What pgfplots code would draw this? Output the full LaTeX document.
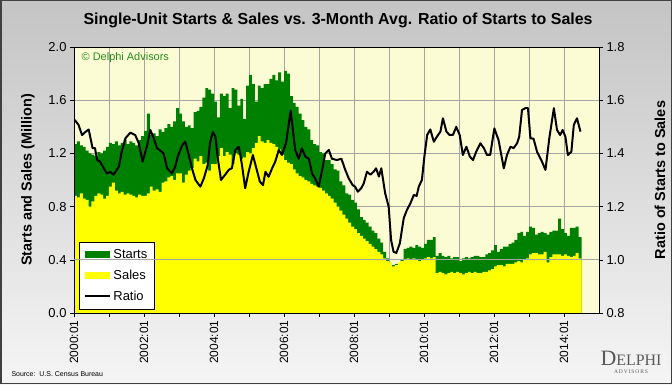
\documentclass[border=0pt]{standalone}
\usepackage{pgfplots}
\pgfplotsset{compat=1.18}
\usepackage{pgfplotstable}
\usepackage{fontspec}
\setmainfont{Liberation Sans}
\newfontfamily\seriffont{Liberation Serif}
\definecolor{stgreen}{RGB}{0,128,0}
\definecolor{slyellow}{RGB}{255,255,0}
\definecolor{plotbg}{RGB}{252,252,212}
\definecolor{gridc}{RGB}{165,165,165}
\definecolor{cpy}{RGB}{40,140,30}
\definecolor{bgtop}{RGB}{196,196,196}
\definecolor{bgbot}{RGB}{245,245,245}

% monthly single-unit starts (s) and sales (y), 2000:01 - 2014:06, last row repeats the final month to close the step
\pgfplotstableread[row sep=\\]{
s y \\
1.27 0.88 \\ 1.29 0.87 \\ 1.26 0.90 \\ 1.25 0.86 \\ 1.22 0.85 \\ 1.20 0.80 \\ 1.19 0.84 \\ 1.18 0.88 \\ 1.21 0.90 \\ 1.20 0.89 \\ 1.22 0.86 \\ 1.25 0.88 \\
1.28 0.95 \\ 1.27 0.98 \\ 1.29 0.92 \\ 1.26 0.90 \\ 1.28 0.91 \\ 1.30 0.89 \\ 1.27 0.90 \\ 1.29 0.89 \\ 1.28 0.88 \\ 1.26 0.87 \\ 1.30 0.89 \\ 1.33 0.88 \\
1.37 0.88 \\ 1.50 0.90 \\ 1.34 0.95 \\ 1.35 0.92 \\ 1.33 0.93 \\ 1.38 0.91 \\ 1.36 0.98 \\ 1.39 0.99 \\ 1.42 1.02 \\ 1.40 1.03 \\ 1.44 1.00 \\ 1.54 1.05 \\
1.50 1.05 \\ 1.44 0.98 \\ 1.40 1.04 \\ 1.41 1.07 \\ 1.39 1.09 \\ 1.51 1.16 \\ 1.52 1.14 \\ 1.55 1.18 \\ 1.62 1.12 \\ 1.69 1.13 \\ 1.68 1.07 \\ 1.65 1.12 \\
1.59 1.12 \\ 1.47 1.18 \\ 1.65 1.24 \\ 1.63 1.18 \\ 1.65 1.21 \\ 1.54 1.19 \\ 1.69 1.12 \\ 1.68 1.20 \\ 1.56 1.19 \\ 1.61 1.16 \\ 1.46 1.17 \\ 1.71 1.21 \\
1.79 1.20 \\ 1.72 1.24 \\ 1.59 1.28 \\ 1.71 1.33 \\ 1.69 1.29 \\ 1.72 1.28 \\ 1.72 1.30 \\ 1.76 1.28 \\ 1.79 1.27 \\ 1.75 1.25 \\ 1.81 1.23 \\ 1.74 1.19 \\
1.82 1.15 \\ 1.80 1.13 \\ 1.63 1.12 \\ 1.58 1.08 \\ 1.55 1.05 \\ 1.50 1.03 \\ 1.45 1.02 \\ 1.40 1.00 \\ 1.38 0.99 \\ 1.30 0.97 \\ 1.27 0.96 \\ 1.26 0.95 \\
1.21 0.94 \\ 1.20 0.92 \\ 1.15 0.90 \\ 1.15 0.88 \\ 1.12 0.86 \\ 1.08 0.83 \\ 1.07 0.80 \\ 0.99 0.77 \\ 0.96 0.74 \\ 0.90 0.71 \\ 0.89 0.68 \\ 0.85 0.65 \\
0.83 0.63 \\ 0.78 0.60 \\ 0.72 0.58 \\ 0.70 0.56 \\ 0.68 0.54 \\ 0.65 0.52 \\ 0.62 0.50 \\ 0.60 0.48 \\ 0.56 0.46 \\ 0.53 0.44 \\ 0.46 0.41 \\ 0.41 0.39 \\
0.36 0.38 \\ 0.36 0.35 \\ 0.37 0.36 \\ 0.36 0.38 \\ 0.40 0.39 \\ 0.48 0.40 \\ 0.49 0.41 \\ 0.50 0.40 \\ 0.49 0.41 \\ 0.51 0.40 \\ 0.50 0.39 \\ 0.49 0.40 \\
0.52 0.41 \\ 0.55 0.42 \\ 0.55 0.41 \\ 0.57 0.42 \\ 0.43 0.30 \\ 0.45 0.31 \\ 0.43 0.30 \\ 0.42 0.29 \\ 0.43 0.30 \\ 0.41 0.31 \\ 0.42 0.30 \\ 0.42 0.31 \\
0.39 0.30 \\ 0.41 0.29 \\ 0.42 0.30 \\ 0.41 0.31 \\ 0.42 0.30 \\ 0.43 0.31 \\ 0.43 0.30 \\ 0.42 0.30 \\ 0.42 0.31 \\ 0.44 0.31 \\ 0.45 0.32 \\ 0.47 0.33 \\
0.51 0.35 \\ 0.46 0.36 \\ 0.48 0.36 \\ 0.50 0.35 \\ 0.50 0.37 \\ 0.52 0.37 \\ 0.53 0.37 \\ 0.55 0.38 \\ 0.60 0.39 \\ 0.61 0.38 \\ 0.58 0.40 \\ 0.61 0.41 \\
0.65 0.44 \\ 0.64 0.45 \\ 0.59 0.45 \\ 0.60 0.44 \\ 0.61 0.44 \\ 0.60 0.46 \\ 0.59 0.38 \\ 0.61 0.42 \\ 0.62 0.44 \\ 0.62 0.44 \\ 0.71 0.44 \\ 0.63 0.43 \\
0.60 0.44 \\ 0.58 0.43 \\ 0.64 0.42 \\ 0.64 0.43 \\ 0.65 0.45 \\ 0.57 0.41 \\
0.57 0.41 \\
}\housing

\begin{document}
\begin{tikzpicture}[x=1bp,y=1bp]
\shade[top color=bgtop, bottom color=bgbot] (0,0) rectangle (672,384);
\draw[line width=1.5bp, color=black!75] (0.75,0.75) rectangle (671.25,383.25);
\useasboundingbox (0,0) rectangle (672,384);

\begin{axis}[
  at={(74bp,71bp)}, anchor=south west,
  scale only axis, width=525bp, height=266bp,
  xmin=2000, xmax=2015, ymin=0, ymax=2,
  axis background/.style={fill=plotbg},
  xtick={2000,2001,...,2014},
  xticklabels={2000:01,,2002:01,,2004:01,,2006:01,,2008:01,,2010:01,,2012:01,,2014:01},
  xticklabel style={rotate=90, anchor=east, font=\fontsize{12}{12}\selectfont},
  ytick={0,0.4,0.8,1.2,1.6,2.0},
  yticklabel style={/pgf/number format/.cd, fixed, fixed zerofill, precision=1, /tikz/.cd, font=\fontsize{13}{13}\selectfont},
  /pgf/number format/assume math mode=true,
  xtick pos=bottom, ytick pos=left, tick align=outside,
  major tick length=4bp,
  tick style={black, line width=0.6bp},
  xmajorgrids, ymajorgrids,
  grid style={gridc, line width=0.7bp},
  axis line style={black},
  ylabel={Starts and Sales (Million)},
  ylabel style={at={(axis description cs:-0.0876,0.5)}, anchor=center, font=\bfseries\fontsize{14.5}{15}\selectfont},
  title={Single-Unit Starts \& Sales vs. 3-Month Avg. Ratio of Starts to Sales},
  title style={at={(axis description cs:0.503,1.079)}, anchor=center, yshift=0pt, font=\bfseries\fontsize{16}{17}\selectfont},
  legend style={at={(0.01,0.015)}, anchor=south west, draw=black, fill=white,
    font=\fontsize{13}{15}\selectfont, row sep=6bp, inner xsep=5bp, inner ysep=5bp},
  legend cell align=left,
]
\addplot[draw=none, fill=stgreen, const plot mark left,
  legend image code/.code={\fill[stgreen] (0bp,-3.5bp) rectangle (25bp,3.5bp);}]
  table[x expr=2000+\coordindex/12, y=s]{\housing} \closedcycle;
\addlegendentry{Starts}
\addplot[draw=none, fill=slyellow, const plot mark left,
  legend image code/.code={\fill[slyellow] (0bp,-3.5bp) rectangle (25bp,3.5bp);}]
  table[x expr=2000+\coordindex/12, y=y]{\housing} \closedcycle;
\addlegendentry{Sales}
\addlegendimage{black, line width=2bp, legend image code/.code={\draw[black, line width=2bp] (0bp,0bp) -- (25bp,0bp);}}
\addlegendentry{Ratio}
\node[anchor=west, text=cpy, font=\fontsize{11}{12}\selectfont] at (axis description cs:0.008,0.96) {© Delphi Advisors};
\end{axis}

\begin{axis}[
  at={(74bp,71bp)}, anchor=south west,
  scale only axis, width=525bp, height=266bp,
  xmin=2000, xmax=2015, ymin=0.8, ymax=1.8,
  xtick=\empty,
  ytick={0.8,1.0,1.2,1.4,1.6,1.8},
  ytick pos=right, yticklabel pos=right, tick align=outside,
  major tick length=4bp,
  tick style={black, line width=0.6bp},
  yticklabel style={/pgf/number format/.cd, fixed, fixed zerofill, precision=1, /tikz/.cd, font=\fontsize{13}{13}\selectfont},
  /pgf/number format/assume math mode=true,
  axis line style={black},
  ylabel={Ratio of Starts to Sales},
  ylabel style={at={(axis description cs:1.116,0.5)}, anchor=center, rotate=0, font=\bfseries\fontsize{14.5}{15}\selectfont},
]
\addplot[gridc, line width=0.7bp] coordinates {(2000,1.0) (2015,1.0)};
\addplot[black, line width=2bp, line join=round] coordinates {
(2000.02,1.526) (2000.13,1.507) (2000.23,1.469) (2000.32,1.48) (2000.42,1.49)
(2000.53,1.42) (2000.60,1.42) (2000.66,1.375) (2000.74,1.37) (2000.85,1.344)
(2000.94,1.325) (2001.04,1.33) (2001.13,1.32) (2001.28,1.35) (2001.37,1.41)
(2001.47,1.457) (2001.61,1.478) (2001.75,1.469) (2001.85,1.438) (2001.96,1.369)
(2002.09,1.43) (2002.18,1.488) (2002.28,1.457) (2002.37,1.42) (2002.47,1.41)
(2002.56,1.40) (2002.66,1.344) (2002.80,1.325) (2002.89,1.35) (2002.97,1.39)
(2003.09,1.43) (2003.18,1.444) (2003.28,1.394) (2003.37,1.344) (2003.47,1.30)
(2003.61,1.275) (2003.71,1.306) (2003.82,1.356) (2003.89,1.444) (2003.97,1.48)
(2004.04,1.463) (2004.11,1.38) (2004.20,1.30) (2004.32,1.32) (2004.42,1.338)
(2004.51,1.344) (2004.61,1.413) (2004.71,1.425) (2004.80,1.356) (2004.89,1.269)
(2004.99,1.331) (2005.11,1.394) (2005.21,1.344) (2005.31,1.294) (2005.40,1.281)
(2005.47,1.331) (2005.56,1.312) (2005.66,1.344) (2005.75,1.369) (2005.85,1.413)
(2005.94,1.394) (2006.01,1.42) (2006.06,1.44) (2006.19,1.56) (2006.32,1.413)
(2006.42,1.38) (2006.51,1.419) (2006.61,1.388) (2006.71,1.38) (2006.80,1.325)
(2006.89,1.306) (2006.99,1.275) (2007.09,1.338) (2007.18,1.40) (2007.28,1.413)
(2007.37,1.38) (2007.51,1.375) (2007.64,1.38) (2007.75,1.338) (2007.85,1.306)
(2007.96,1.281) (2008.03,1.275) (2008.11,1.256) (2008.21,1.27) (2008.28,1.288)
(2008.37,1.331) (2008.47,1.32) (2008.56,1.331) (2008.63,1.344) (2008.71,1.313)
(2008.78,1.344) (2008.89,1.25) (2008.99,1.20) (2009.06,1.074) (2009.13,1.03)
(2009.21,1.026) (2009.31,1.062) (2009.42,1.156) (2009.51,1.187) (2009.61,1.212)
(2009.71,1.244) (2009.79,1.24) (2009.85,1.275) (2009.94,1.30) (2010.01,1.388)
(2010.09,1.469) (2010.18,1.49) (2010.28,1.444) (2010.37,1.463) (2010.47,1.482)
(2010.54,1.532) (2010.64,1.482) (2010.73,1.469) (2010.83,1.47) (2010.92,1.50)
(2011.02,1.469) (2011.11,1.394) (2011.21,1.425) (2011.31,1.388) (2011.40,1.375)
(2011.49,1.406) (2011.61,1.438) (2011.71,1.42) (2011.80,1.394) (2011.89,1.394)
(2012.01,1.494) (2012.13,1.45) (2012.20,1.40) (2012.28,1.344) (2012.37,1.394)
(2012.47,1.425) (2012.56,1.42) (2012.66,1.438) (2012.72,1.463) (2012.80,1.563)
(2012.89,1.57) (2012.97,1.57) (2013.04,1.457) (2013.13,1.455) (2013.23,1.406)
(2013.35,1.375) (2013.47,1.338) (2013.58,1.457) (2013.71,1.57) (2013.80,1.488)
(2013.89,1.469) (2013.96,1.488) (2014.04,1.463) (2014.11,1.394) (2014.21,1.406)
(2014.28,1.507) (2014.37,1.532) (2014.47,1.482)
};
\end{axis}

\node[anchor=west, font=\fontsize{7}{8}\selectfont] at (8,10) {Source:\ \ U.S. Census Bureau};
\node[anchor=center, text=black!65, font=\seriffont\fontsize{22}{22}\selectfont] at (631,26) {D{\fontsize{16}{16}\selectfont ELPHI}};
\node[anchor=center, text=black!65, font=\seriffont\fontsize{5.5}{6}\selectfont] at (631,12) {A\,D\,V\,I\,S\,O\,R\,S};
\end{tikzpicture}
\end{document}
